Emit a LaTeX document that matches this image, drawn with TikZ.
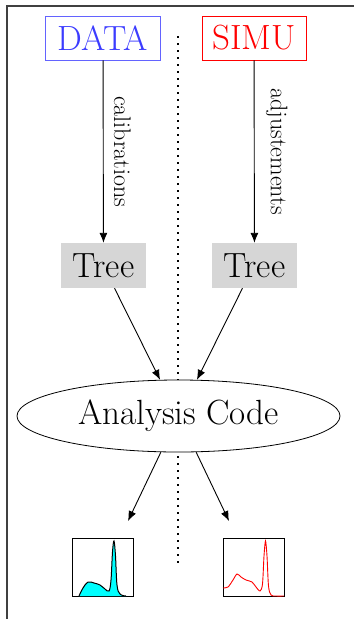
\documentclass[tikz,border=0pt]{standalone}
\usetikzlibrary{arrows.meta,calc,positioning,shapes.geometric}
\definecolor{datablue}{RGB}{60,60,255}
\definecolor{simured}{RGB}{255,0,0}
\definecolor{histcyan}{RGB}{0,255,255}
\tikzset{
  box-data/.style={draw=datablue!80,line width=0.9pt,rectangle,minimum width=115pt,minimum height=44pt,inner sep=0pt,text=datablue,font=\fontsize{35}{40}\selectfont},
  box-simu/.style={draw=simured,line width=0.9pt,rectangle,minimum width=104pt,minimum height=44pt,inner sep=0pt,text=simured,font=\fontsize{35}{40}\selectfont},
  box-tree/.style={fill=black!16,rectangle,minimum width=85pt,minimum height=45pt,inner sep=0pt,font=\fontsize{35}{40}\selectfont},
  node-code/.style={draw,fill=white,ellipse,minimum width=323pt,minimum height=72pt,inner sep=0pt,line width=0.8pt,font=\fontsize{35}{40}\selectfont},
  node-hist/.style={draw,rectangle,minimum width=61pt,minimum height=58pt,inner sep=0pt,line width=1pt},
  flow/.style={-{Latex[length=10pt,width=8pt]},line width=0.9pt,black},
  lbl/.style={rotate=-90,font=\fontsize{24}{28}\selectfont},
  sepline/.style={draw,line width=1.6pt,dash pattern=on 1.6pt off 5.4pt},
  frameline/.style={draw,black!75,line width=1.6pt},
}

\begin{document}
\begin{tikzpicture}[x=1pt,y=-1pt]
  \useasboundingbox (0,0) rectangle (354,619);

  % frame
  \draw[frameline] (7,619) -- (7,6) -- (354,6);

  % separator
  \coordinate (sepTop) at (178,36);
  \coordinate (sepBot) at (178,567);
  \draw[sepline] (sepTop) -- (sepBot);

  % sources
  \node[box-data] (data) at (103,38)  {DATA};
  \node[box-simu] (simu) at (254,38)  {SIMU};

  % trees
  \node[box-tree] (treeL) at (103.5,265.5) {Tree};
  \node[box-tree] (treeR) at (254.5,265.5) {Tree};
  \draw[flow] (data) -- node[lbl,right=7pt,anchor=south] {calibrations} (treeL);
  \draw[flow] (simu) -- node[lbl,right=8pt,anchor=south] {adjustements} (treeR);

  % analysis
  \node[node-code] (ana) at (178.5,416) {Analysis Code};
  \draw[flow] ([xshift=11pt]treeL.south)  -- (ana.117);
  \draw[flow] ([xshift=-12pt]treeR.south) -- (ana.63);

  % output histograms
  \node[node-hist] (histL) at (102.5,567) {};
  \node[node-hist] (histR) at (253.5,567) {};
  \coordinate (outL) at (128,521);
  \coordinate (outR) at (229,521);
  \draw[flow] (ana.244) -- (outL);
  \draw[flow] (ana.296) -- (outR);

  \draw[fill=histcyan,line width=1pt] plot[smooth,tension=0.6] coordinates {
    (79,596) (83,588) (88,582) (94,583) (100,585) (105,589) (109,591)
    (111,580) (112.5,552) (114,541) (115.5,556) (117,585) (120,594) (126,596)};
  \draw[simured,line width=0.9pt] plot[smooth,tension=0.5] coordinates {
    (223,588) (228,587) (233,580) (237,574) (241,577) (246,580) (252,582)
    (256,587) (260,591) (262.5,584) (264,556) (265.5,541) (267,556) (268.5,586)
    (271,595) (276,596) (284,596)};
\end{tikzpicture}
\end{document}
